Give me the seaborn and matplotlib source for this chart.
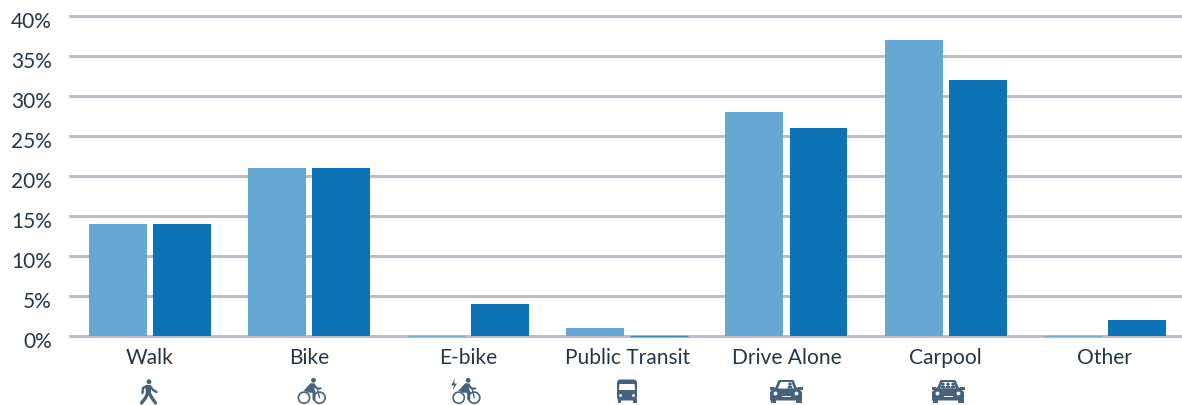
import numpy as np
import pandas as pd
import matplotlib
matplotlib.use("Agg")
import matplotlib.pyplot as plt
import matplotlib.transforms as mtrans
from matplotlib.patches import Circle, Polygon, FancyBboxPatch, Rectangle
import seaborn as sns

# data
modes = ['Walk', 'Bike', 'E-bike', 'Public Transit', 'Drive Alone', 'Carpool', 'Other']
light_values = [14, 21, 0, 1, 28, 37, 0]
dark_values = [14, 21, 4, 0, 26, 32, 2]
y_ticks = [0, 5, 10, 15, 20, 25, 30, 35, 40]

LIGHT = '#67a7d3'
DARK = '#0b73b6'
GRID = '#bbbec9'
TEXT = '#253746'
ICON = '#45637c'

sns.set_theme(style="white")
plt.rcParams['font.family'] = ['Lato', 'DejaVu Sans']

df = pd.DataFrame({
    'mode': modes * 2,
    'share': light_values + dark_values,
    'series': ['light'] * len(modes) + ['dark'] * len(modes),
})

W, H = 1182, 406
fig = plt.figure(figsize=(W / 100, H / 100), dpi=100)
ax = fig.add_axes([70 / W, (H - 336.5) / H, (W - 70) / W, 320 / H])

sns.barplot(data=df, x='mode', y='share', hue='series', order=modes,
            palette={'light': LIGHT, 'dark': DARK}, width=0.804, gap=0.094,
            legend=False, ax=ax, zorder=3, edgecolor='none', saturation=1)
# zero values still show up as a hairline on the baseline
for p in ax.patches:
    if p.get_height() == 0:
        p.set_edgecolor(p.get_facecolor())
        p.set_linewidth(1.0)
        p.set_alpha(0.7)
        p.set_clip_on(False)

ax.set_xlim(-0.5, 6.484)
ax.set_ylim(0, 40)
ax.set_yticks(y_ticks)
ax.set_yticklabels([f'{v}%' for v in y_ticks])
ax.set_xlabel('')
ax.set_ylabel('')
ax.grid(axis='y', color=GRID, linewidth=2.2, zorder=0, clip_on=False)
ax.grid(axis='x', visible=False)
ax.set_axisbelow(True)
sns.despine(ax=ax, left=True, bottom=True, top=True, right=True)
ax.tick_params(axis='y', length=0, pad=13, labelsize=15, labelcolor=TEXT)
ax.tick_params(axis='x', length=0, pad=8.5, labelsize=15.1, labelcolor=TEXT)

# y labels sit a little under their gridline
shift = mtrans.ScaledTranslation(0, -4 / 100, fig.dpi_scale_trans)
for lab in ax.get_yticklabels():
    lab.set_transform(lab.get_transform() + shift)
    lab.set_horizontalalignment('right')

# icon layer in pixel coordinates
ov = fig.add_axes([0, 0, 1, 1], zorder=5)
ov.set_xlim(0, W)
ov.set_ylim(H, 0)
ov.axis('off')
ov.patch.set_alpha(0)


def stroke(xs, ys, lw=2.0, color=ICON):
    ov.plot(xs, ys, color=color, lw=lw, solid_capstyle='round',
            solid_joinstyle='round')


def wheels(x1, x2, y=398.7, r=5.6):
    for x in (x1, x2):
        ov.add_patch(Circle((x, y), r, fill=False, ec=ICON, lw=1.2))


def draw_walk(x):
    ov.add_patch(Circle((x, 382.7), 2.4, color=ICON, lw=0))
    ov.add_patch(Polygon([(x - 3.5, 386), (x + 1.8, 385.8), (x + 2.2, 395), (x - 3.2, 395)],
                         color=ICON, lw=0))
    stroke([x - 2, x - 6, x - 6.5], [387, 389, 394], lw=1.7)
    stroke([x + 1, x + 4, x + 7.5], [387, 391, 393], lw=1.7)
    stroke([x - 1.2, x - 3.5, x - 7.5], [394, 399, 404], lw=2.4)
    stroke([x, x + 3, x + 6.5], [394, 399, 404], lw=2.4)


def draw_bike(x):
    # x is the left wheel centre
    wheels(x, x + 15.5)
    ov.add_patch(Circle((x + 9.5, 381.3), 2.4, color=ICON, lw=0))
    ov.add_patch(Polygon([(x - 0.5, 392), (x + 6.5, 384.2), (x + 11, 384.5), (x + 10.5, 391),
                          (x + 5, 393)], color=ICON, lw=0))
    stroke([x + 10, x + 13, x + 16.5], [386, 389.5, 389.5], lw=1.5)
    stroke([x + 4, x + 10, x + 10], [392, 392.5, 400], lw=2.2)
    stroke([x + 13.5, x + 15.5], [390, 398.7], lw=1.0)


def draw_bus(x):
    ov.add_patch(FancyBboxPatch((x - 10, 380.5), 20, 21, boxstyle='round,pad=0,rounding_size=3.5',
                                fc=ICON, ec='none'))
    ov.add_patch(Rectangle((x - 9.5, 400), 3.5, 4, color=ICON, lw=0))
    ov.add_patch(Rectangle((x + 6, 400), 3.5, 4, color=ICON, lw=0))
    ov.add_patch(Polygon([(x - 7.5, 385), (x + 7.5, 385), (x + 8, 391), (x - 8, 391)],
                         color='white', lw=0))
    ov.add_patch(Circle((x - 6.5, 396.5), 1.4, color='white', lw=0))
    ov.add_patch(Circle((x + 6.5, 396.5), 1.4, color='white', lw=0))


def draw_car(x, heads):
    body = [(x - 16, 393), (x - 11.5, 388.5), (x + 11.5, 388.5), (x + 16, 393), (x + 16, 401.5),
            (x - 16, 401.5)]
    ov.add_patch(Polygon(body, color=ICON, lw=0))
    ov.add_patch(Polygon([(x - 11, 389.5), (x - 7.5, 381), (x + 7.5, 381), (x + 11, 389.5)],
                         color=ICON, lw=0))
    ov.add_patch(Polygon([(x - 8, 389.5), (x - 5.5, 383), (x + 5.5, 383), (x + 8, 389.5)],
                         color='white', lw=0))
    for hx in heads:
        ov.add_patch(Circle((x + hx, 385.2), 1.7, color=ICON, lw=0))
        ov.add_patch(Polygon([(x + hx - 2.5, 389.5), (x + hx - 2, 387), (x + hx + 2, 387),
                              (x + hx + 2.5, 389.5)], color=ICON, lw=0))
    ov.add_patch(Polygon([(x - 16.5, 388), (x - 12, 388), (x - 12, 391), (x - 16.5, 391)],
                         color=ICON, lw=0))
    ov.add_patch(Polygon([(x + 16.5, 388), (x + 12, 388), (x + 12, 391), (x + 16.5, 391)],
                         color=ICON, lw=0))
    ov.add_patch(Rectangle((x - 15.5, 400), 5.5, 4.2, color=ICON, lw=0))
    ov.add_patch(Rectangle((x + 10, 400), 5.5, 4.2, color=ICON, lw=0))
    ov.add_patch(Circle((x - 10.5, 394.5), 1.9, color='white', lw=0))
    ov.add_patch(Circle((x + 10.5, 394.5), 1.9, color='white', lw=0))
    ov.add_patch(Rectangle((x - 4.5, 397), 9, 1.1, color='white', lw=0))


draw_walk(149)
draw_bike(304)
draw_bike(458.7)
ov.add_patch(Polygon([(454.8, 379.5), (451.2, 386.5), (454, 386.5), (452.5, 391.5), (457, 384.5), (454.2, 384.5)],
                     color=ICON, lw=0))
draw_bus(627)
draw_car(786, [4])
draw_car(948, [-5, 0, 5])

fig.savefig('out.png', dpi=100, facecolor='white')
